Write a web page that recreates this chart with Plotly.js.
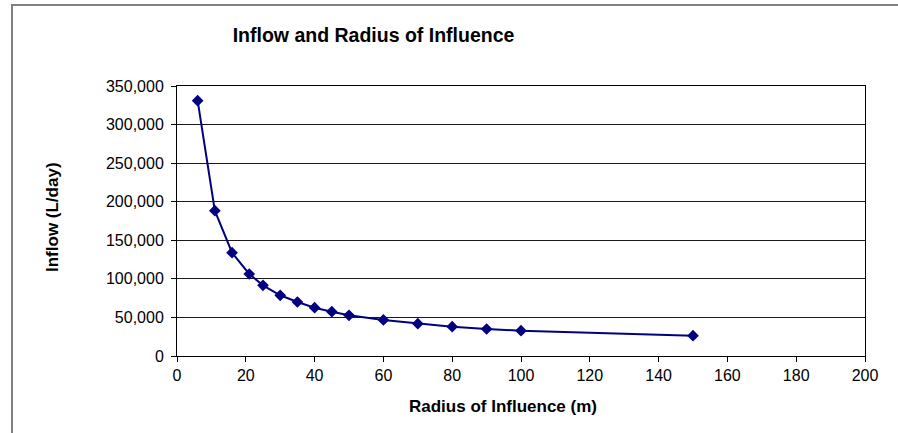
<!DOCTYPE html>
<html>
<head>
<meta charset="utf-8">
<script src="https://cdn.plot.ly/plotly-3.0.1.min.js"></script>
<style>
  html, body { margin: 0; padding: 0; background: #fff; }
  #chart { width: 898px; height: 433px; }
</style>
</head>
<body>
<div id="chart"></div>
<script>
// Data
const radius = [6, 11, 16, 21, 25, 30, 35, 40, 45, 50, 60, 70, 80, 90, 100, 150];
const inflow = [331000, 188400, 133900, 106300, 91600, 78700, 70000, 62600, 57400, 52700, 46700, 41900, 38000, 35000, 32800, 26300];

const chartTitle = "Inflow and Radius of Influence";
const xTitle = "Radius of Influence (m)";
const yTitle = "Inflow (L/day)";

const FONT = "Liberation Sans, Arial, Helvetica, sans-serif";

const W = 898, H = 433;
const M = { l: 177, r: 33, t: 86, b: 77 };
const pw = W - M.l - M.r, ph = H - M.t - M.b;
const px2x = p => (p - M.l) / pw;
const py2y = p => (H - M.b - p) / ph;

const trace = {
  x: radius,
  y: inflow,
  type: "scatter",
  mode: "lines+markers",
  line: { color: "#000080", width: 2 },
  marker: { symbol: "diamond", size: 9, color: "#000080" },
  hoverinfo: "x+y"
};

const layout = {
  width: W,
  height: H,
  margin: M,
  paper_bgcolor: "#ffffff",
  plot_bgcolor: "#ffffff",
  showlegend: false,
  font: { family: FONT, color: "#000", size: 16 },
  title: {
    text: "<b>" + chartTitle + "</b>",
    font: { family: FONT, size: 19.5, color: "#000" },
    xref: "container", yref: "container",
    x: 373.5 / W, xanchor: "center",
    y: 1 - 35 / H, yanchor: "middle"
  },
  xaxis: {
    range: [0, 200],
    dtick: 20,
    tick0: 0,
    showgrid: false,
    zeroline: false,
    showline: true,
    mirror: true,
    linecolor: "#000",
    linewidth: 1,
    ticks: "outside",
    ticklen: 5,
    tickcolor: "#000",
    tickfont: { family: FONT, size: 16, color: "#000" },
    fixedrange: true
  },
  yaxis: {
    range: [0, 350000],
    dtick: 50000,
    tick0: 0,
    tickformat: ",d",
    showgrid: true,
    gridcolor: "#1a1a1a",
    gridwidth: 1,
    zeroline: false,
    showline: true,
    mirror: true,
    linecolor: "#000",
    linewidth: 1,
    ticks: "outside",
    ticklen: 5,
    tickcolor: "#000",
    ticklabelstandoff: 4,
    tickfont: { family: FONT, size: 16, color: "#000" },
    fixedrange: true
  },
  annotations: [
    {
      text: "<b>" + xTitle + "</b>",
      xref: "paper", yref: "paper",
      x: px2x(503), y: py2y(406),
      xanchor: "center", yanchor: "middle",
      showarrow: false,
      font: { family: FONT, size: 17, color: "#000" }
    },
    {
      text: "<b>" + yTitle + "</b>",
      xref: "paper", yref: "paper",
      x: px2x(52), y: py2y(217),
      xanchor: "center", yanchor: "middle",
      textangle: -90,
      showarrow: false,
      font: { family: FONT, size: 17, color: "#000" }
    }
  ],
  shapes: [
    { type: "line", xref: "paper", yref: "paper",
      x0: px2x(12), x1: px2x(12), y0: py2y(4), y1: py2y(440),
      line: { color: "#808080", width: 2 } },
    { type: "line", xref: "paper", yref: "paper",
      x0: px2x(11), x1: px2x(905), y0: py2y(5), y1: py2y(5),
      line: { color: "#808080", width: 2 } }
  ]
};

Plotly.newPlot("chart", [trace], layout, { displayModeBar: false, staticPlot: true });
</script>
</body>
</html>
